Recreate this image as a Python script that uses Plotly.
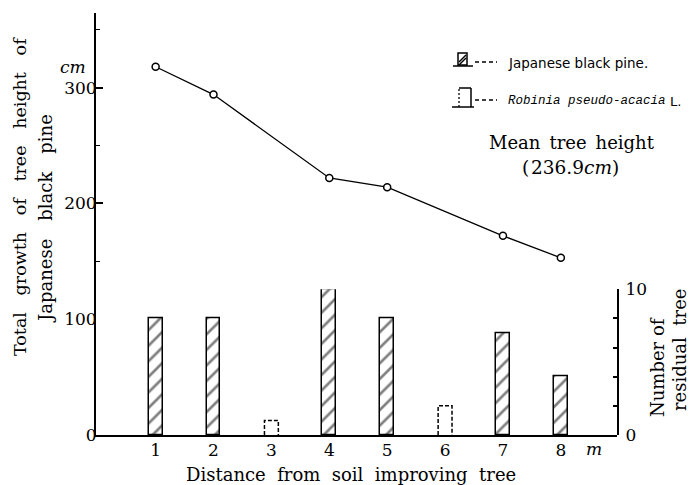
import plotly.graph_objects as go

# --- data -------------------------------------------------------------
distance = [1, 2, 3, 4, 5, 6, 7, 8]
distance_labels = ["1", "2", "3", "4", "5", "6", "7", "8"]

# total height growth of Japanese black pine (cm), where pines remain
pine_x = [1, 2, 4, 5, 7, 8]
pine_growth = [318, 294, 222, 214, 172, 153]

# number of residual trees at each distance
pine_count = [8, 8, 0, 10, 8, 0, 7, 4]
robinia_count = [0, 0, 1, 0, 0, 2, 0, 0]

left_ticks = [0, 100, 200, 300]
right_ticks = [0, 2, 4, 6, 8, 10]
right_ticktext = ["0", "", "", "", "", "10"]

BAR_W = 0.24
SERIF = "DejaVu Serif"
NB = "\u00a0"

# --- plot-area geometry in pixels -------------------------------------
W, H = 695, 485
L, R, T, B = 96, 617, 13, 435


def px(x):
    return (x - L) / (R - L)


def py(y):
    return (B - y) / (B - T)


def spaced(s, n=1):
    """Widen word gaps with extra non-breaking spaces."""
    return s.replace(" ", " " + NB * n)


fig = go.Figure()

# hatched bars: residual Japanese black pine
pine_bx = [d for d, c in zip(distance, pine_count) if c > 0]
pine_by = [c for c in pine_count if c > 0]
fig.add_trace(go.Bar(
    x=pine_bx, y=pine_by, width=BAR_W, xaxis="x", yaxis="y2",
    marker=dict(color="white", line=dict(color="black", width=1.5),
                pattern=dict(shape="/", fgcolor="black", bgcolor="white",
                             size=11, solidity=0.24)),
    showlegend=False, hoverinfo="skip",
))

# dashed open bars: residual Robinia pseudo-acacia
for d, c in zip(distance, robinia_count):
    if c <= 0:
        continue
    x0, x1 = d - BAR_W / 2, d + BAR_W / 2
    fig.add_trace(go.Scatter(
        x=[x0, x0, x1, x1], y=[0, c, c, 0], xaxis="x", yaxis="y2",
        mode="lines", line=dict(color="black", width=1.5, dash="4px,2px"),
        showlegend=False, hoverinfo="skip",
    ))

# growth line with open circles
fig.add_trace(go.Scatter(
    x=pine_x, y=pine_growth, xaxis="x", yaxis="y",
    mode="lines+markers",
    line=dict(color="black", width=1.3),
    marker=dict(symbol="circle", size=7, color="white",
                line=dict(color="black", width=1.5)),
    showlegend=False, hoverinfo="skip",
))

axis_font = dict(family=SERIF, size=17, color="black")

fig.update_layout(
    width=W, height=H,
    margin=dict(l=L, r=W - R, t=T, b=H - B, autoexpand=False),
    paper_bgcolor="white", plot_bgcolor="white",
    font=dict(family=SERIF, color="black"),
    bargap=0,
    xaxis=dict(
        domain=[0, 1], anchor="y", automargin=False,
        range=[-0.03, 8.97],
        tickvals=distance, ticktext=distance_labels,
        ticks="", showgrid=False, zeroline=False,
        showline=True, linecolor="black", linewidth=2,
        tickfont=axis_font, ticklabelstandoff=-1,
    ),
    yaxis=dict(
        domain=[0, 1], anchor="x", automargin=False,
        range=[0, (B - T) / 115.8 * 100],
        tickvals=left_ticks,
        ticks="inside", ticklen=7, tickwidth=1.5, tickcolor="black",
        minor=dict(dtick=50, tick0=0, ticks="inside", ticklen=4,
                   tickwidth=1.2, tickcolor="black"),
        showgrid=False, zeroline=False,
        showline=True, linecolor="black", linewidth=2,
        tickfont=axis_font, ticklabelstandoff=-6,
    ),
    yaxis2=dict(
        domain=[0, py(289.3)], anchor="x", side="right", automargin=False,
        range=[0, 10],
        tickvals=right_ticks, ticktext=right_ticktext,
        ticks="inside", ticklen=4, tickwidth=1.5, tickcolor="black",
        showgrid=False, zeroline=False,
        showline=True, linecolor="black", linewidth=2,
        tickfont=axis_font, ticklabelstandoff=3,
    ),
)

ann = []


def text(x, y, s, size=18, family=SERIF, angle=0, xanchor="center", yanchor="middle"):
    ann.append(dict(x=px(x), y=py(y), xref="paper", yref="paper", text=s,
                    showarrow=False, textangle=angle, xanchor=xanchor,
                    yanchor=yanchor, borderpad=0,
                    font=dict(family=family, size=size, color="black")))


# axis titles and units
text(20, 197, spaced("Total growth of tree height of", 2), size=17.5, angle=-90)
text(45, 219, "Japanese\u2002\u2002black\u2002\u2002pine", angle=-90)
text(351, 474, spaced("Distance from soil improving tree", 1))
text(657, 367, "Number of", angle=-90)
text(679, 350, spaced("residual tree", 1), angle=-90)
text(73, 67, "<i>cm</i>", size=17)
text(594, 449, "<i>m</i>", size=17)

# mean height note
text(572, 143, "Mean\u2002tree\u2002height")
text(570, 167, "(\u200a236.9<i>cm</i>)", size=18.5)

# legend texts
text(507, 63, "Japanese black pine.", size=13.5, family="DejaVu Sans", xanchor="left")
text(507, 101, "<i>Robinia pseudo-acacia</i>", size=12.5, family="Liberation Mono", xanchor="left")
text(669, 101, "L.", size=13, family="DejaVu Sans", xanchor="left")

shapes = []


def seg(x0, y0, x1, y1, width=1.5, dash="solid"):
    shapes.append(dict(type="line", xref="paper", yref="paper",
                       x0=px(x0), y0=py(y0), x1=px(x1), y1=py(y1),
                       line=dict(color="black", width=width, dash=dash)))


# legend key: hatched pine bar
shapes.append(dict(type="rect", xref="paper", yref="paper",
                   x0=px(458), y0=py(65), x1=px(467), y1=py(53),
                   line=dict(color="black", width=1.5), fillcolor="white"))
seg(459, 62, 466, 55, width=1.5)
seg(459, 65, 466, 58, width=1.5)
seg(453, 66, 473, 66, width=1.5)
seg(475, 62, 497, 62, width=1.3, dash="4px,3px")

# legend key: dashed robinia bar
seg(459, 107, 459, 88, width=1.3, dash="2px,2px")
seg(459, 88, 471, 88, width=1.5)
seg(471, 88, 471, 107, width=1.5)
seg(452, 107, 474, 107, width=1.5)
seg(475, 100, 497, 100, width=1.3, dash="4px,3px")

fig.update_layout(annotations=ann, shapes=shapes)

fig.write_html("out.html")
